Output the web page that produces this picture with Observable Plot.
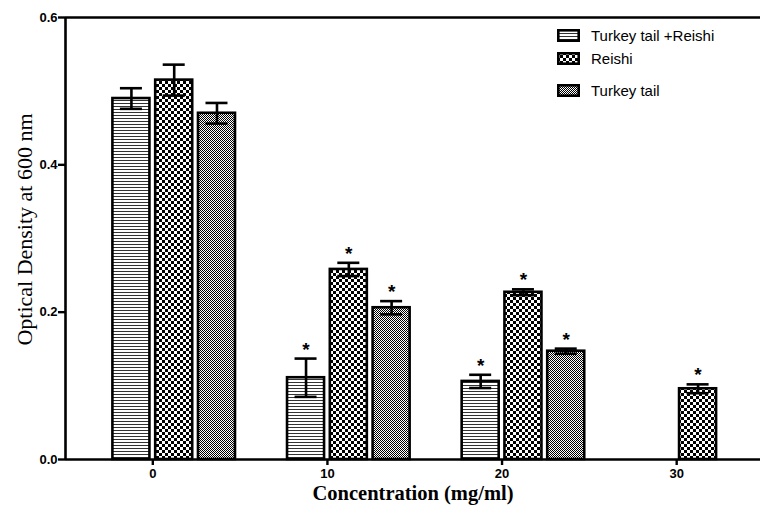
<!DOCTYPE html>
<html>
<head>
<meta charset="utf-8">
<script src="https://cdn.jsdelivr.net/npm/d3@7"></script>
<script src="https://cdn.jsdelivr.net/npm/@observablehq/plot@0.6"></script>
<style>
  html, body { margin: 0; padding: 0; background: #fff; }
  #wrap { position: relative; width: 760px; height: 514px; overflow: hidden; }
  #legend { position: absolute; left: 0; top: 0; width: 760px; height: 514px; pointer-events: none;
            font-family: "Liberation Sans", Arial, sans-serif; font-size: 15px; color: #000; }
  .item { position: absolute; left: 557px; display: flex; align-items: center; white-space: nowrap; }
  .item svg { margin-right: 11px; }
</style>
</head>
<body>
<svg width="0" height="0" style="position:absolute">
  <defs>
    <pattern id="pHoriz" patternUnits="userSpaceOnUse" width="4" height="3">
      <rect width="4" height="3" fill="#fff"/>
      <rect y="1" width="4" height="1" fill="#333"/>
    </pattern>
    <pattern id="pChecker" patternUnits="userSpaceOnUse" width="6" height="6">
      <rect width="6" height="6" fill="#fff"/>
      <rect x="0" y="0" width="3" height="3" fill="#000"/>
      <rect x="3" y="3" width="3" height="3" fill="#000"/>
    </pattern>
    <pattern id="pFine" patternUnits="userSpaceOnUse" width="2" height="2">
      <rect width="2" height="2" fill="#fff"/>
      <rect x="0" y="0" width="1" height="1" fill="#000"/>
      <rect x="1" y="1" width="1" height="1" fill="#000"/>
    </pattern>
  </defs>
</svg>
<div id="wrap">
  <div id="chart"></div>
  <div id="legend"></div>
</div>
<script>
// ---- data ----
const concentrations = [0, 10, 20, 30];
const seriesNames = ["Turkey tail +Reishi", "Reishi", "Turkey tail"];
const turkeyReishi = [0.490, 0.111, 0.106, null];
const turkeyReishiErr = [0.014, 0.026, 0.009, null];
const reishi = [0.515, 0.258, 0.227, 0.096];
const reishiErr = [0.021, 0.009, 0.004, 0.006];
const turkeyTail = [0.470, 0.206, 0.147, null];
const turkeyTailErr = [0.014, 0.009, 0.0035, null];
const significant = [false, true, true, true];
const yTicks = [0, 0.2, 0.4, 0.6];

// ---- layout/style ----
const patterns = ["url(#pHoriz)", "url(#pChecker)", "url(#pFine)"];
const slot = 2.45;      // spacing between bars in a group (concentration units)
const barW = 2.12;      // bar width (concentration units)
const capW = 1.26;      // error cap width
const sans = "'Liberation Sans', Arial, sans-serif";
const serif = "'Liberation Serif', 'Times New Roman', serif";

const values = [turkeyReishi, reishi, turkeyTail];
const errs = [turkeyReishiErr, reishiErr, turkeyTailErr];
const rows = [];
seriesNames.forEach((s, k) => {
  concentrations.forEach((c, i) => {
    if (values[k][i] == null) return;
    rows.push({series: s, k, c, x: c + (k - 0.5) * slot, v: values[k][i], e: errs[k][i], sig: significant[i]});
  });
});

const marks = [];
seriesNames.forEach((s, k) => {
  marks.push(Plot.rect(rows.filter(d => d.k === k), {
    x1: d => d.x - barW / 2, x2: d => d.x + barW / 2, y1: 0, y2: "v",
    fill: patterns[k], stroke: "#000", strokeWidth: 2.6
  }));
});
marks.push(
  Plot.ruleX(rows, {x: "x", y1: d => d.v - d.e, y2: d => d.v + d.e, stroke: "#000", strokeWidth: 2.6}),
  Plot.ruleY(rows, {y: d => d.v + d.e, x1: d => d.x - capW / 2, x2: d => d.x + capW / 2, stroke: "#000", strokeWidth: 2.6}),
  Plot.ruleY(rows, {y: d => d.v - d.e, x1: d => d.x - capW / 2, x2: d => d.x + capW / 2, stroke: "#000", strokeWidth: 2.6}),
  Plot.text(rows.filter(d => d.sig), {x: "x", y: d => d.v + d.e, text: () => "*", dy: -9,
    fontSize: 19, fontWeight: "bold", fontFamily: sans, fill: "#000"}),
  Plot.ruleY([0, 0.6], {stroke: "#000", strokeWidth: 2.6}),
  Plot.ruleX([-5], {stroke: "#000", strokeWidth: 2.6}),
  Plot.axisY({ticks: yTicks, tickFormat: d3.format(".1f"), tickSize: 7, tickPadding: 1,
    fontSize: 13, fontWeight: "bold", fontFamily: sans, strokeWidth: 2.4, label: null}),
  Plot.axisX({ticks: concentrations, tickFormat: d => String(d), tickSize: 6, tickPadding: 3,
    fontSize: 13, fontWeight: "bold", fontFamily: sans, strokeWidth: 2.4, label: null}),
  Plot.text(["Optical Density at 600 nm"], {frameAnchor: "left", textAnchor: "middle", rotate: -90, dx: -41, dy: -9,
    fontSize: 22, fontFamily: serif, fill: "#000"}),
  Plot.text(["Concentration (mg/ml)"], {frameAnchor: "bottom", dy: 34, lineAnchor: "middle",
    fontSize: 20.5, fontWeight: "bold", fontFamily: serif, fill: "#000"})
);

const chart = Plot.plot({
  width: 760, height: 514,
  marginLeft: 65, marginRight: 0, marginTop: 17, marginBottom: 55,
  x: {type: "linear", domain: [-5, 34.8]},
  y: {domain: [0, 0.6]},
  style: {background: "#fff", color: "#000", overflow: "visible", fontSize: "13px", fontFamily: sans},
  marks
});
document.getElementById("chart").appendChild(chart);

// ---- legend ----
const legendTops = [36, 58.5, 91];
const legend = document.getElementById("legend");
seriesNames.forEach((s, k) => {
  const div = document.createElement("div");
  div.className = "item";
  div.style.top = (legendTops[k] - 9) + "px";
  div.innerHTML = `<svg width="23" height="13"><rect x="1.3" y="1.3" width="20.4" height="10.4" fill="${patterns[k]}" stroke="#000" stroke-width="2.6"/></svg><span>${s}</span>`;
  legend.appendChild(div);
});
</script>
</body>
</html>
